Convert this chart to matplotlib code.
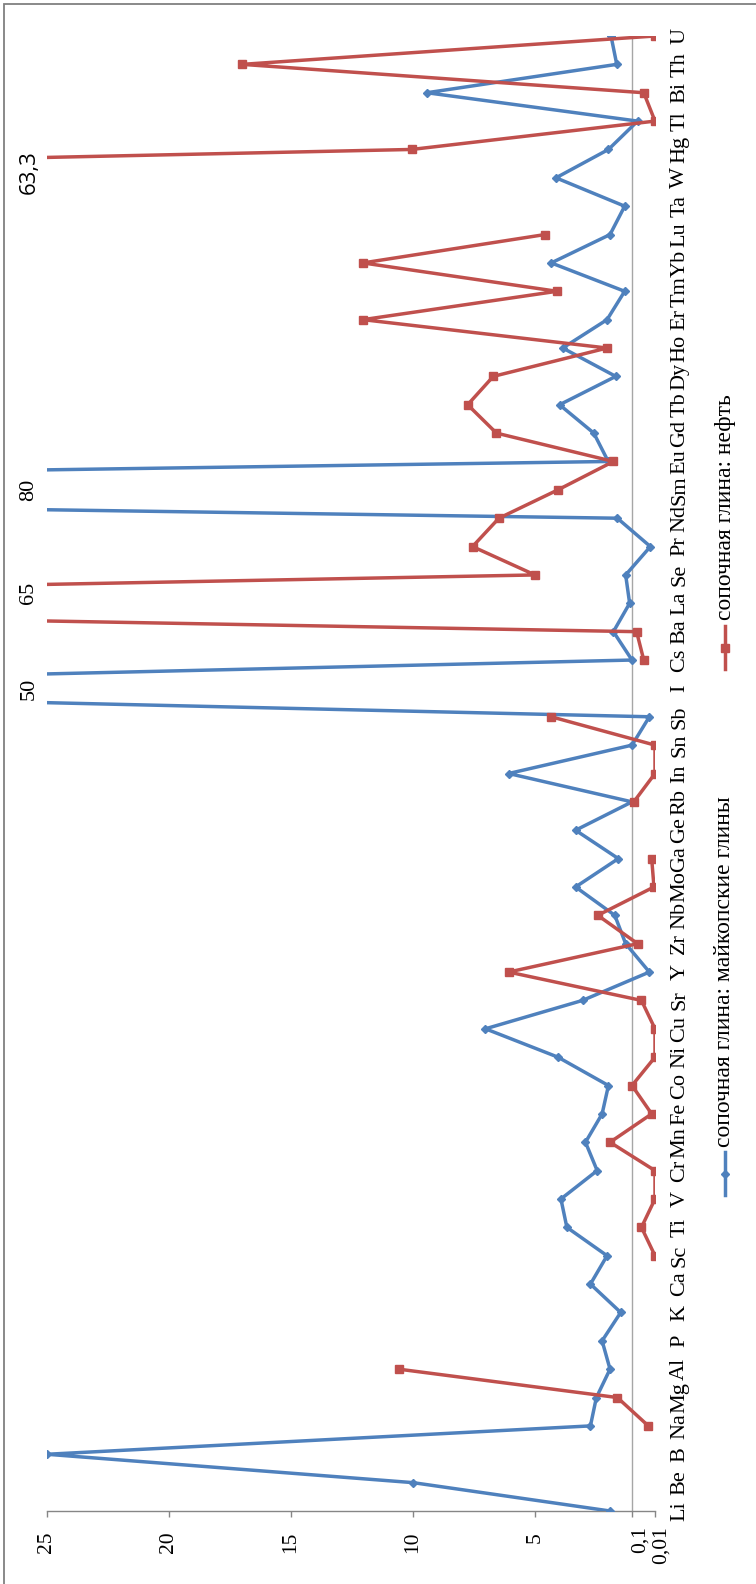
import numpy as np
import matplotlib
matplotlib.use("Agg")
import matplotlib.pyplot as plt
from matplotlib.lines import Line2D
from matplotlib.patches import Rectangle

plt.rcParams["font.family"] = ["Liberation Serif", "DejaVu Serif"]

# ---------------- data ----------------
elements = ["Li", "Be", "B", "Na", "Mg", "Al", "P", "K", "Ca", "Sc", "Ti", "V", "Cr",
            "Mn", "Fe", "Co", "Ni", "Cu", "Sr", "Y", "Zr", "Nb", "Mo", "Ga", "Ge", "Rb",
            "In", "Sn", "Sb", "I", "Cs", "Ba", "La", "Se", "Pr", "Nd", "Sm", "Eu", "Gd",
            "Tb", "Dy", "Ho", "Er", "Tm", "Yb", "Lu", "Ta", "W", "Hg", "Tl", "Bi", "Th", "U"]

maikop = [1.21, 10.0, 25.0, 2.2, 1.9, 1.21, 1.61, 0.67, 2.2, 1.36, 3.39, 3.69, 1.86,
          2.45, 1.61, 1.29, 3.84, 7.03, 2.6, 0.032, 0.42, 0.97, 2.95, 0.79, 2.95, 0.1,
          6.08, 0.1, 0.032, 50, 0.1, 1.04, 0.22, 0.42, 0.028, 0.84, 80, 1.3, 2.03,
          3.76, 0.92, 3.6, 1.36, 0.47, 4.18, 1.21, 0.47, 3.94, 1.29, 0.078, 9.43, 0.87, 1.16]

nan = float("nan")
neft = [nan, nan, nan, 0.036, 0.84, 10.58, nan, nan, nan, 0.01, 0.063, 0.01, 0.01,
        1.21, 0.023, 0.1, 0.01, 0.01, 0.063, 6.08, 0.078, 1.83, 0.014, 0.023, nan, 0.093,
        0.01, 0.01, 4.18, nan, 0.054, 0.082, 65, 5.0, 7.56, 6.48, 3.84, 1.04, 6.58,
        7.76, 6.71, 1.36, 12.05, 3.89, 12.05, 4.5, nan, 63.3, 10.06, 0.01, 0.054, 17.0, 0.01]

value_ticks = [0.01, 0.1, 5, 10, 15, 20, 25]
value_tick_labels = ["0,01", "0,1", "5", "10", "15", "20", "25"]

series_labels = ["сопочная глина: майкопские глины", "сопочная глина: нефть"]
BLUE = "#4F81BD"
RED = "#C0504D"
AXIS_MAX = 25

# ---------------- custom (broken) value scale ----------------
def fwd(v):
    v = np.asarray(v, dtype=float)
    return np.where(v >= 5, 120 + (v - 5) * 24.4,
                    np.where(v >= 0.1, 23 + (v - 0.1) * (97 / 4.9),
                             (v - 0.01) * (23 / 0.09)))

def inv(p):
    p = np.asarray(p, dtype=float)
    return np.where(p >= 120, 5 + (p - 120) / 24.4,
                    np.where(p >= 23, 0.1 + (p - 23) * 4.9 / 97,
                             0.01 + p * 0.09 / 23))

W, H = 756, 1584
fig = plt.figure(figsize=(W / 100, H / 100), dpi=100)

ax_l, ax_r, ax_t, ax_b = 47, 655, 36, 1511
ax = fig.add_axes([ax_l / W, 1 - ax_b / H, (ax_r - ax_l) / W, (ax_b - ax_t) / H])
ax.set_xscale("function", functions=(fwd, inv))
ax.set_xlim(AXIS_MAX, 0.01)
ax.set_ylim(0, len(elements) - 1)

idx = np.arange(len(elements))
ax.axvline(0.1, color="#A6A6A6", lw=1.0, zorder=1)

ax.plot(maikop, idx, color=BLUE, lw=2.5, marker="D", ms=4.5,
        markerfacecolor=BLUE, markeredgecolor=BLUE, zorder=3, solid_joinstyle="round")
ax.plot(neft, idx, color=RED, lw=2.5, marker="s", ms=5.5,
        markerfacecolor=RED, markeredgecolor=RED, zorder=3, solid_joinstyle="round")

# off-scale values annotated next to the clipped peaks
def fmt(v):
    s = ("%.1f" % v).rstrip("0").rstrip(".")
    return s.replace(".", ",")

for series in (maikop, neft):
    for i, v in enumerate(series):
        if v == v and v > AXIS_MAX:
            txt = fmt(v)
            fam = ["Open Sans", "DejaVu Sans"] if "," in txt else ["Liberation Serif"]
            dy = 6 if "," in txt else (10 if v == 65 else 0)
            ax.annotate(txt, xy=(AXIS_MAX, i), xytext=(-18, dy), textcoords="offset pixels",
                        rotation=90, ha="center", va="center", fontsize=16,
                        family=fam, annotation_clip=False)

# spines
for s in ("top", "left", "right"):
    ax.spines[s].set_visible(False)
ax.spines["bottom"].set_color("#868686")
ax.spines["bottom"].set_linewidth(1.0)

# value axis ticks
ax.set_xticks(value_ticks)
ax.set_xticklabels(["" if v < 1 else l for v, l in zip(value_ticks, value_tick_labels)],
                   rotation=90, fontsize=15.5)
ax.tick_params(axis="x", direction="out", length=4, width=1, color="#868686", pad=11)
offsets = {0.1: 8, 0.01: 6}
for v, l in zip(value_ticks, value_tick_labels):
    if v < 1:
        ax.annotate(l, xy=(v, 0), xycoords=ax.get_xaxis_transform(),
                    xytext=(offsets[v], -15), textcoords="offset pixels",
                    rotation=90, ha="center", va="top", fontsize=15.5,
                    annotation_clip=False)

# category axis labels on the right
ax.set_yticks(idx)
ax.set_yticklabels(elements, rotation=90, fontsize=16, va="center")
ax.tick_params(axis="y", left=False, right=False, labelleft=False, labelright=True,
               length=0, pad=11)

# ---------------- legend (rotated, drawn manually) ----------------
def fx(px):
    return px / W

def fy(py):
    return 1 - py / H

lx = 725
for color, mk, ms, (y0, y1), ytxt, lab in [
        (BLUE, "D", 4.5, (1152, 1195), 1147, series_labels[0]),
        (RED, "s", 5.5, (626, 669), 620, series_labels[1])]:
    fig.add_artist(Line2D([fx(lx), fx(lx)], [fy(y1), fy(y0)], transform=fig.transFigure,
                          color=color, lw=2.5))
    fig.add_artist(Line2D([fx(lx)], [fy((y0 + y1) / 2)], transform=fig.transFigure,
                          marker=mk, ms=ms, color=color, lw=0))
    fig.text(fx(lx), fy(ytxt), lab, rotation=90, ha="center", va="bottom", fontsize=17)

# outer frame
fig.add_artist(Rectangle((fx(4), -0.01), 1.02, fy(4) + 0.01, transform=fig.transFigure,
                         fill=False, edgecolor="#808080", lw=1.3))

fig.savefig("out.png", dpi=100)
